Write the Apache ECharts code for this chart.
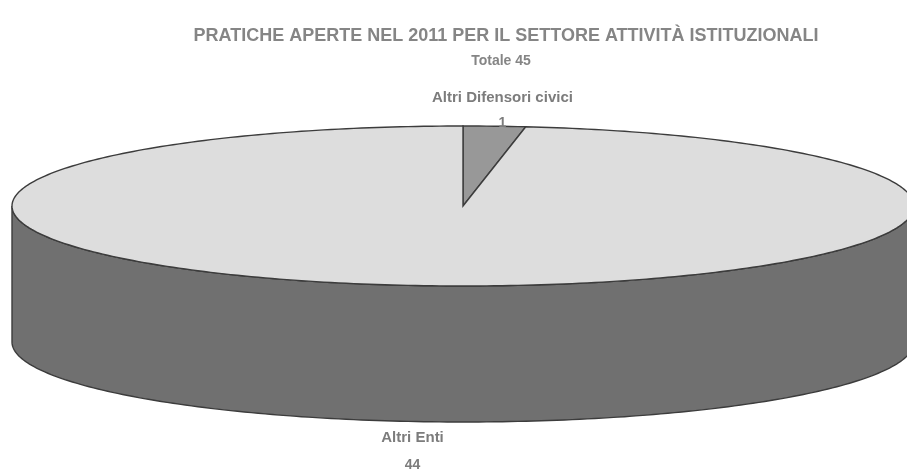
<!DOCTYPE html>
<html>
<head>
<meta charset="utf-8">
<script src="https://cdn.jsdelivr.net/npm/echarts@6/dist/echarts.min.js"></script>
<style>
  html, body { margin: 0; padding: 0; background: #fff; }
  #main { width: 907px; height: 474px; filter: blur(0.5px); }
</style>
</head>
<body>
<div id="main"></div>
<script>
  var categories = ['Altri Difensori civici', 'Altri Enti'];
  var values = [1, 44];
  var topColors = ['#989898', '#dddddd'];
  var sideColors = ['#5c5c5c', '#707070'];
  var titleText = 'PRATICHE APERTE NEL 2011 PER IL SETTORE ATTIVITÀ ISTITUZIONALI';

  var total = values.reduce(function (a, b) { return a + b; }, 0);

  // disco 3d: ellisse superiore + parete frontale
  var cx = 463, cy = 206, rx = 451, ry = 80, depth = 136;
  var edge = '#3c3c3c';
  var textColor = '#7c7c7c';
  // spostamento delle etichette rispetto all'angolo medio della fetta
  var labelY = [[98, 123], [438, 465]];
  var labelShift = [8, -19];

  function pt(deg, dy) {
    var a = deg * Math.PI / 180;
    return [cx + rx * Math.sin(a), cy - ry * Math.cos(a) + (dy || 0)];
  }

  function renderSlice(params, api) {
    var i = params.dataIndex;
    var before = 0;
    for (var k = 0; k < i; k++) before += values[k];
    var start = before / total * 360;
    var end = (before + api.value(1)) / total * 360;
    var mid = (start + end) / 2;
    var children = [];
    var d;

    // parete: solo la parte davanti (da 90 a 270 gradi)
    var s = Math.max(start, 90), e = Math.min(end, 270);
    if (e > s) {
      var front = [], back = [];
      for (d = s; d < e; d += 1) {
        front.push(pt(d));
        back.unshift(pt(d, depth));
      }
      front.push(pt(e));
      back.unshift(pt(e, depth));
      children.push({
        type: 'polygon',
        shape: { points: front.concat(back) },
        style: { fill: sideColors[i], stroke: edge, lineWidth: 1.4 }
      });
    }

    var top = [[cx, cy]];
    for (d = start; d < end; d += 1) top.push(pt(d));
    top.push(pt(end));
    children.push({
      type: 'polygon',
      shape: { points: top },
      style: { fill: topColors[i], stroke: edge, lineWidth: 1.4 }
    });

    var lx = cx + rx * Math.sin(mid * Math.PI / 180) + labelShift[i];
    children.push({
      type: 'text',
      z2: 10,
      style: {
        text: categories[i], x: lx, y: labelY[i][0], fill: textColor,
        font: 'bold 15px "Liberation Sans", Arial, sans-serif',
        align: 'center', verticalAlign: 'middle'
      }
    });
    children.push({
      type: 'text',
      z2: 10,
      style: {
        text: String(api.value(1)), x: lx, y: labelY[i][1], fill: textColor,
        font: 'bold 14px "Liberation Sans", Arial, sans-serif',
        align: 'center', verticalAlign: 'middle'
      }
    });
    return { type: 'group', children: children };
  }

  var myChart = echarts.init(document.getElementById('main'));
  myChart.setOption({
    animation: false,
    backgroundColor: '#ffffff',
    title: [{
      text: titleText,
      left: 501,
      top: 22,
      textAlign: 'center',
      textStyle: { color: '#858585', fontSize: 18, fontWeight: 'bold', fontFamily: '"Liberation Sans", Arial, sans-serif' }
    }, {
      text: 'Totale ' + total,
      left: 496,
      top: 49,
      textAlign: 'center',
      textStyle: { color: '#858585', fontSize: 14, fontWeight: 'bold', fontFamily: '"Liberation Sans", Arial, sans-serif' }
    }],
    series: [{
      type: 'custom',
      coordinateSystem: 'none',
      renderItem: renderSlice,
      data: values.map(function (v, i) { return [i, v]; })
    }]
  });
</script>
</body>
</html>
